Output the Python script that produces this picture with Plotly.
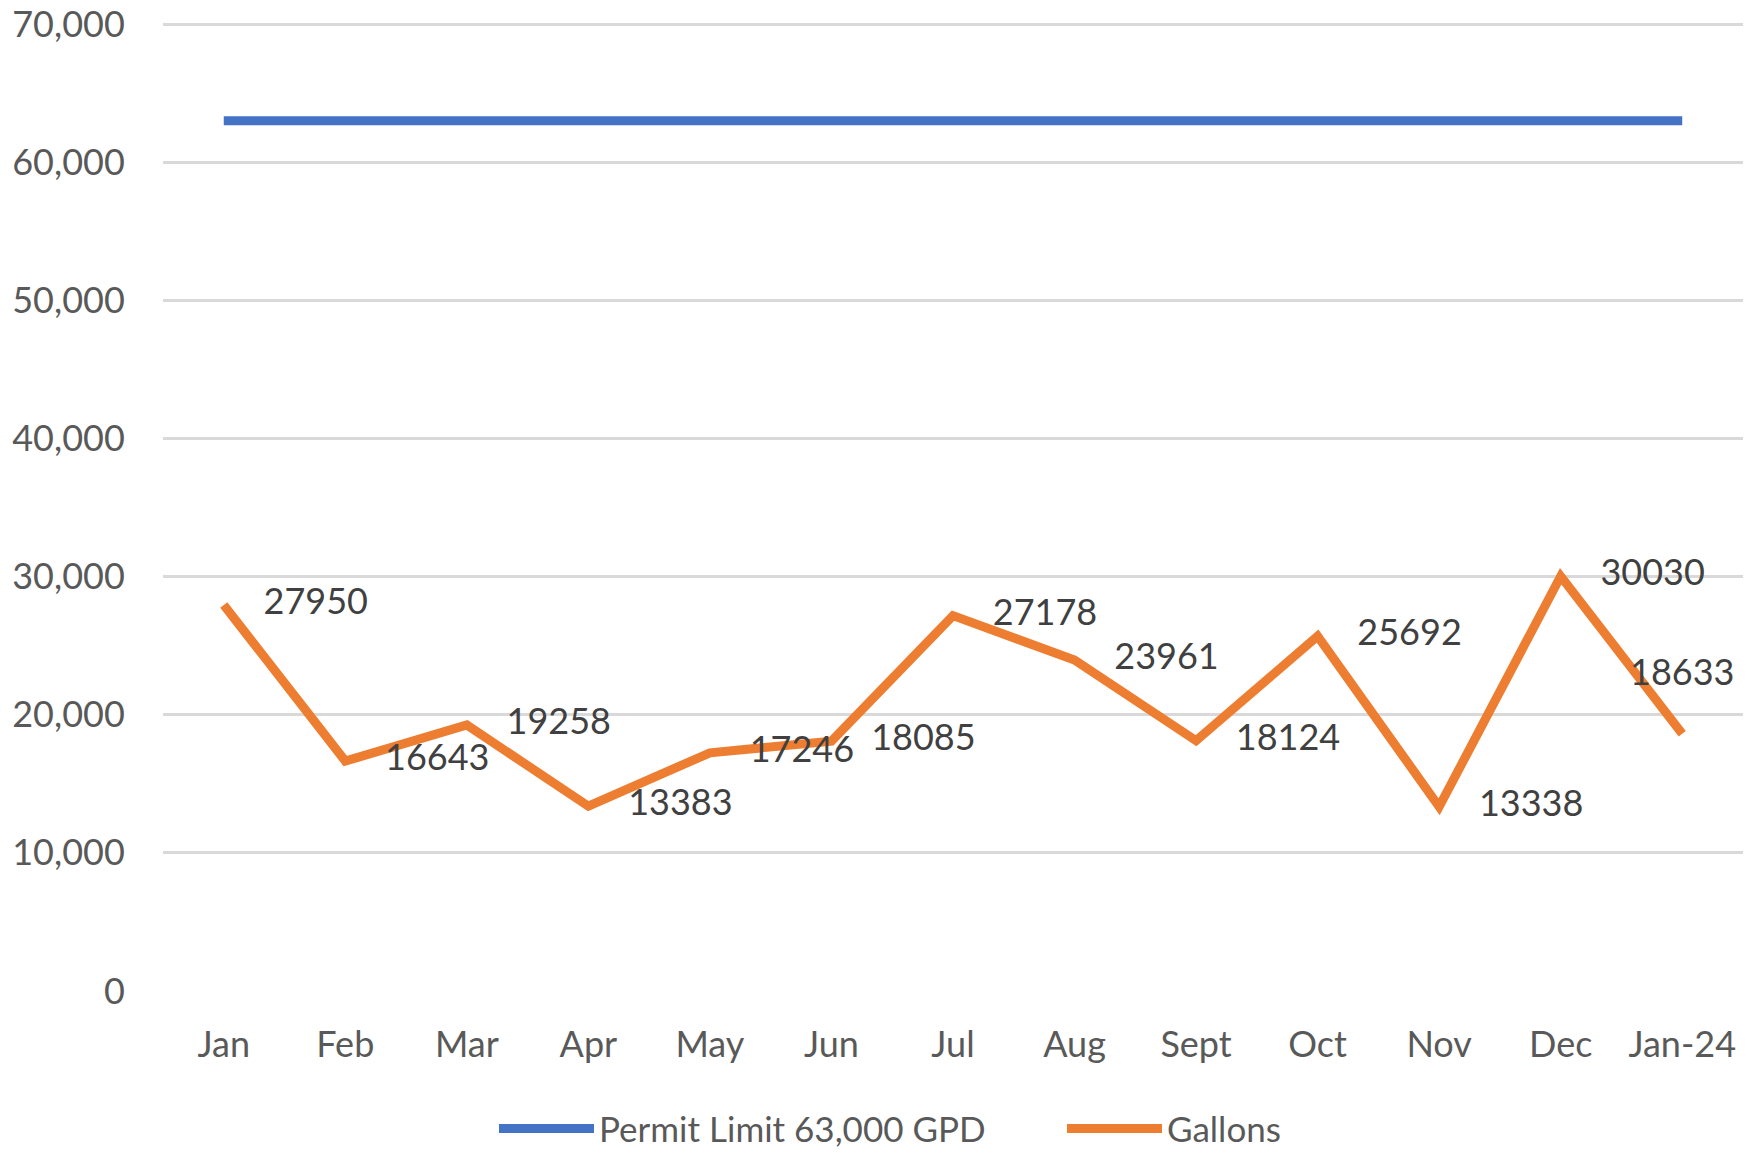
import plotly.graph_objects as go

months = ["Jan", "Feb", "Mar", "Apr", "May", "Jun", "Jul", "Aug", "Sept", "Oct", "Nov", "Dec", "Jan-24"]
permit_limit = [63000] * 13
gallons = [27950, 16643, 19258, 13383, 17246, 18085, 27178, 23961, 18124, 25692, 13338, 30030, 18633]
y_ticks = [0, 10000, 20000, 30000, 40000, 50000, 60000, 70000]
y_tick_labels = ["0", "10,000", "20,000", "30,000", "40,000", "50,000", "60,000", "70,000"]

FONT = "Lato"
label_pos = ["middle right"] * 12 + ["top center"]

fig = go.Figure()
fig.add_trace(go.Scatter(
    x=months, y=permit_limit, mode="lines", name="Permit Limit 63,000 GPD",
    line=dict(color="#4472C4", width=9),
))
fig.add_trace(go.Scatter(
    x=months, y=gallons, mode="lines+markers+text", name="Gallons",
    line=dict(color="#ED7D31", width=9),
    marker=dict(size=62, color="rgba(0,0,0,0)"),
    text=[str(v) for v in gallons], textposition=label_pos,
    textfont=dict(family=FONT, size=36, color="#404040"),
    cliponaxis=False,
))

fig.update_layout(
    width=1764, height=1153,
    margin=dict(l=163, r=21, t=20, b=162, autoexpand=False),
    paper_bgcolor="white", plot_bgcolor="white",
    showlegend=True,
    legend=dict(orientation="h", xref="container", yref="container",
                x=494 / 1764, xanchor="left", y=0.021, yanchor="middle",
                font=dict(family=FONT, size=35, color="#595959"),
                itemwidth=95, entrywidth=458, entrywidthmode="pixels"),
    font=dict(family=FONT),
)
fig.update_xaxes(
    type="category", range=[-0.5, 12.5], showgrid=False, zeroline=False,
    showline=False, ticks="outside", ticklen=22, tickcolor="rgba(0,0,0,0)",
    tickfont=dict(family=FONT, size=36, color="#595959"), automargin=False,
    ticklabeloverflow="allow",
)
fig.update_yaxes(
    range=[0, 70300], tickvals=y_ticks, ticktext=y_tick_labels,
    showgrid=True, gridcolor="#D9D9D9", gridwidth=3, zeroline=False,
    showline=False, ticks="outside", ticklen=30, tickcolor="rgba(0,0,0,0)",
    tickfont=dict(family=FONT, size=36, color="#595959"), automargin=False,
    ticklabeloverflow="allow",
)

fig.write_html("out.html", config={"displayModeBar": False},
               post_script="document.body.style.margin='0';")
